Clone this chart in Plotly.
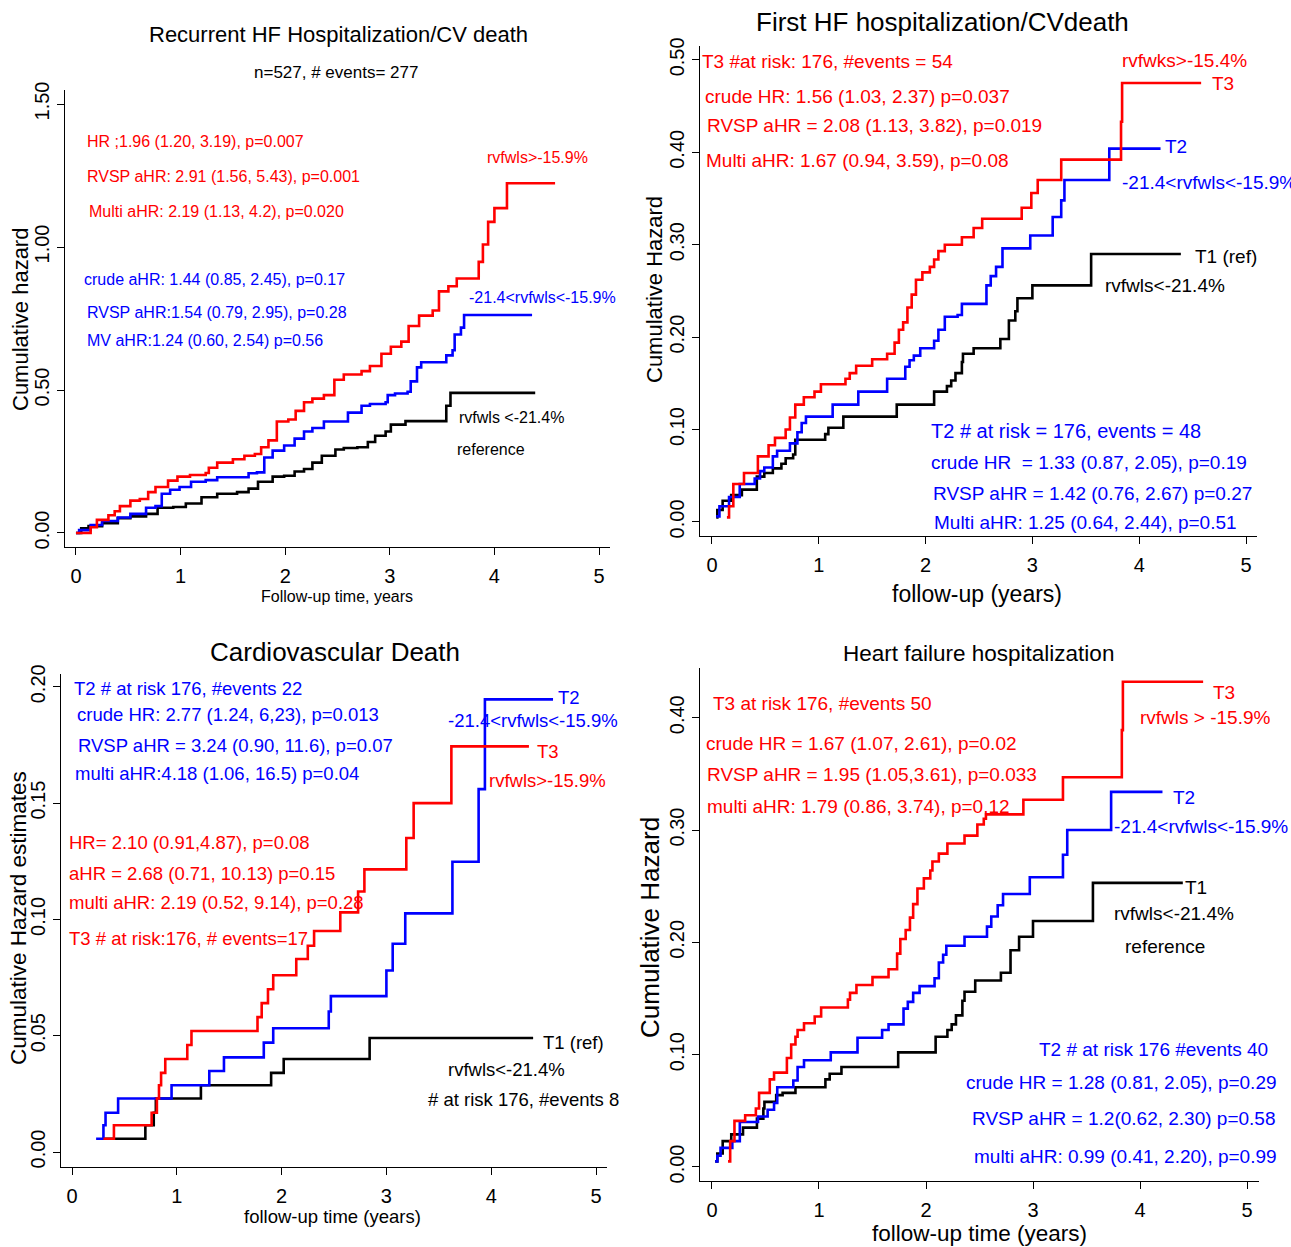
import plotly.graph_objects as go

W, H = 1291, 1247
RED, BLUE, BLACK = "#ff0000", "#0000ff", "#000000"
FONT = "Liberation Sans, Arial, sans-serif"

# ---------------- data: (time in years, cumulative hazard) ----------------
# Panel 1: Recurrent HF Hospitalization/CV death
p1_t3_t = [0, 0.14, 0.2, 0.31, 0.37, 0.42, 0.52, 0.61, 0.69, 0.76, 0.88, 0.97, 1.09, 1.24, 1.27, 1.35, 1.5, 1.61, 1.71, 1.77, 1.84, 1.92, 2.03, 2.1, 2.18, 2.26, 2.37, 2.47, 2.56, 2.73, 2.81, 2.92, 3.01, 3.11, 3.18, 3.28, 3.41, 3.47, 3.56, 3.64, 3.85, 3.89, 3.94, 4.0, 4.12, 4.58]
p1_t3_h = [0, 0.02, 0.046, 0.062, 0.076, 0.094, 0.113, 0.119, 0.143, 0.161, 0.183, 0.197, 0.203, 0.21, 0.228, 0.246, 0.258, 0.27, 0.276, 0.30, 0.324, 0.39, 0.397, 0.427, 0.457, 0.47, 0.482, 0.536, 0.554, 0.566, 0.584, 0.627, 0.651, 0.669, 0.724, 0.76, 0.778, 0.845, 0.863, 0.89, 0.948, 1.009, 1.088, 1.136, 1.223, 1.223]
p1_t2_t = [0, 0.03, 0.14, 0.25, 0.40, 0.52, 0.67, 0.76, 0.82, 0.9, 0.99, 1.1, 1.24, 1.35, 1.65, 1.73, 1.8, 1.88, 1.99, 2.09, 2.18, 2.26, 2.37, 2.6, 2.73, 2.81, 2.96, 2.98, 3.05, 3.17, 3.2, 3.26, 3.3, 3.54, 3.6, 3.62, 3.68, 3.71, 4.36]
p1_t2_h = [0, 0.01, 0.028, 0.042, 0.054, 0.067, 0.088, 0.094, 0.137, 0.151, 0.161, 0.179, 0.185, 0.195, 0.209, 0.212, 0.264, 0.288, 0.306, 0.33, 0.355, 0.367, 0.39, 0.421, 0.445, 0.451, 0.457, 0.482, 0.488, 0.494, 0.53, 0.579, 0.597, 0.621, 0.639, 0.694, 0.718, 0.762, 0.762]
p1_t1_t = [0, 0.05, 0.12, 0.25, 0.4, 0.52, 0.67, 0.78, 0.93, 1.05, 1.2, 1.35, 1.54, 1.65, 1.74, 1.88, 1.99, 2.09, 2.18, 2.26, 2.35, 2.48, 2.56, 2.69, 2.79, 2.86, 2.96, 3.01, 3.15, 3.54, 3.58, 4.39]
p1_t1_h = [0, 0.016, 0.024, 0.034, 0.052, 0.058, 0.067, 0.088, 0.091, 0.103, 0.125, 0.137, 0.143, 0.155, 0.179, 0.197, 0.2, 0.215, 0.224, 0.246, 0.27, 0.292, 0.297, 0.30, 0.318, 0.34, 0.355, 0.379, 0.391, 0.445, 0.49, 0.49]

# Panel 2: First HF hospitalization/CV death
p2_t3_t = [0.14, 0.16, 0.2, 0.3, 0.43, 0.53, 0.59, 0.69, 0.73, 0.78, 0.86, 0.96, 1.02, 1.25, 1.29, 1.35, 1.5, 1.64, 1.71, 1.75, 1.79, 1.83, 1.87, 1.91, 1.97, 2.04, 2.08, 2.12, 2.18, 2.34, 2.45, 2.53, 2.9, 2.99, 3.05, 3.27, 3.83, 3.84, 4.58]
p2_t3_h = [0.005, 0.017, 0.041, 0.053, 0.071, 0.083, 0.091, 0.1, 0.113, 0.127, 0.135, 0.141, 0.149, 0.155, 0.161, 0.169, 0.176, 0.182, 0.194, 0.208, 0.216, 0.232, 0.246, 0.262, 0.27, 0.276, 0.284, 0.293, 0.30, 0.308, 0.318, 0.328, 0.34, 0.356, 0.37, 0.392, 0.433, 0.475, 0.475]
p2_t2_t = [0.04, 0.07, 0.16, 0.26, 0.4, 0.45, 0.49, 0.57, 0.61, 0.73, 0.8, 0.84, 0.88, 1.13, 1.37, 1.64, 1.81, 1.85, 1.89, 1.95, 2.08, 2.12, 2.18, 2.3, 2.34, 2.57, 2.61, 2.66, 2.72, 2.98, 3.19, 3.27, 3.3, 3.72, 4.2]
p2_t2_h = [0.006, 0.017, 0.027, 0.041, 0.047, 0.055, 0.059, 0.071, 0.077, 0.085, 0.097, 0.107, 0.114, 0.127, 0.141, 0.155, 0.168, 0.175, 0.18, 0.188, 0.196, 0.208, 0.222, 0.224, 0.236, 0.256, 0.266, 0.276, 0.296, 0.31, 0.33, 0.348, 0.37, 0.404, 0.404]
p2_t1_t = [0.04, 0.05, 0.1, 0.18, 0.28, 0.42, 0.49, 0.57, 0.65, 0.69, 0.76, 0.78, 1.06, 1.09, 1.23, 1.73, 2.08, 2.2, 2.24, 2.28, 2.34, 2.35, 2.45, 2.7, 2.78, 2.84, 2.86, 3.0, 3.55, 4.39]
p2_t1_h = [0.005, 0.013, 0.023, 0.029, 0.035, 0.049, 0.053, 0.058, 0.063, 0.069, 0.073, 0.089, 0.095, 0.102, 0.114, 0.127, 0.141, 0.147, 0.153, 0.161, 0.173, 0.182, 0.188, 0.198, 0.218, 0.228, 0.242, 0.256, 0.29, 0.29]

# Panel 3: Cardiovascular Death
p3_t3_t = [0.3, 0.4, 0.76, 0.81, 0.83, 0.85, 0.89, 1.1, 1.14, 1.77, 1.81, 1.87, 1.92, 2.14, 2.25, 2.31, 2.56, 2.73, 2.79, 3.19, 3.26, 3.62, 4.36]
p3_t3_h = [0.0057, 0.0115, 0.0169, 0.023, 0.0287, 0.034, 0.040, 0.046, 0.052, 0.058, 0.064, 0.070, 0.076, 0.083, 0.0887, 0.095, 0.103, 0.112, 0.1215, 0.135, 0.150, 0.1744, 0.1744]
p3_t2_t = [0.23, 0.3, 0.32, 0.44, 0.95, 1.31, 1.45, 1.83, 1.92, 2.45, 2.47, 3.0, 3.06, 3.18, 3.63, 3.88, 3.94, 4.59]
p3_t2_h = [0.0057, 0.0115, 0.0169, 0.023, 0.0287, 0.0348, 0.0407, 0.047, 0.0532, 0.0604, 0.067, 0.078, 0.0895, 0.1026, 0.1248, 0.156, 0.1946, 0.1946]
p3_t1_t = [0.3, 0.7, 0.78, 0.8, 1.23, 1.9, 2.02, 2.84, 4.4]
p3_t1_h = [0.0057, 0.0115, 0.0169, 0.023, 0.0287, 0.034, 0.040, 0.049, 0.049]

# Panel 4: Heart failure hospitalization
p4_t3_t = [0.15, 0.17, 0.21, 0.31, 0.41, 0.44, 0.54, 0.58, 0.7, 0.74, 0.78, 0.8, 0.86, 0.96, 1.02, 1.27, 1.29, 1.35, 1.5, 1.65, 1.73, 1.76, 1.81, 1.85, 1.88, 1.92, 1.98, 2.04, 2.06, 2.12, 2.2, 2.36, 2.48, 2.54, 2.56, 2.91, 3.28, 3.83, 3.84, 4.59]
p4_t3_h = [0.005, 0.023, 0.041, 0.046, 0.052, 0.066, 0.078, 0.084, 0.097, 0.109, 0.116, 0.122, 0.128, 0.134, 0.142, 0.149, 0.155, 0.162, 0.169, 0.176, 0.19, 0.203, 0.211, 0.222, 0.234, 0.248, 0.257, 0.264, 0.272, 0.279, 0.288, 0.295, 0.305, 0.31, 0.314, 0.327, 0.347, 0.389, 0.432, 0.432]
p4_t2_t = [0.03, 0.05, 0.08, 0.19, 0.26, 0.43, 0.52, 0.58, 0.61, 0.76, 0.8, 0.86, 1.11, 1.36, 1.59, 1.65, 1.79, 1.83, 1.88, 1.94, 2.08, 2.12, 2.16, 2.19, 2.36, 2.57, 2.61, 2.67, 2.72, 2.97, 3.28, 3.32, 3.73, 4.21]
p4_t2_h = [0.005, 0.01, 0.017, 0.023, 0.04, 0.045, 0.051, 0.057, 0.071, 0.077, 0.089, 0.095, 0.102, 0.115, 0.122, 0.127, 0.141, 0.147, 0.155, 0.161, 0.168, 0.182, 0.189, 0.197, 0.205, 0.214, 0.223, 0.233, 0.243, 0.258, 0.278, 0.3, 0.334, 0.334]
p4_t1_t = [0.03, 0.05, 0.1, 0.18, 0.29, 0.42, 0.48, 0.49, 0.6, 0.66, 0.78, 1.06, 1.1, 1.21, 1.74, 2.09, 2.2, 2.24, 2.28, 2.34, 2.36, 2.46, 2.7, 2.79, 2.87, 3.0, 3.56, 4.4]
p4_t1_h = [0.005, 0.012, 0.023, 0.029, 0.035, 0.043, 0.052, 0.058, 0.064, 0.066, 0.071, 0.078, 0.083, 0.089, 0.102, 0.116, 0.122, 0.127, 0.135, 0.148, 0.156, 0.166, 0.173, 0.193, 0.205, 0.219, 0.253, 0.253]

x_ticks = [0, 1, 2, 3, 4, 5]
p1_yticks = [0.0, 0.5, 1.0, 1.5]
p2_yticks = [0.0, 0.1, 0.2, 0.3, 0.4, 0.5]
p3_yticks = [0.0, 0.05, 0.10, 0.15, 0.20]
p4_yticks = [0.0, 0.1, 0.2, 0.3, 0.4]

# ---------------- layout geometry (screen pixels; page margin removed) ----------------
def fx(p):
    return p / W

def fy(p):
    return 1 - p / H

panels = [
    dict(xpx=(65, 610), ypx=(90, 547), xr=[-0.105, 5.105], yr=[-0.049, 1.549], yt=p1_yticks,
         series=[(p1_t1_t, p1_t1_h, BLACK), (p1_t2_t, p1_t2_h, BLUE), (p1_t3_t, p1_t3_h, RED)]),
    dict(xpx=(700, 1257), ypx=(46, 536), xr=[-0.112, 5.103], yr=[-0.0152, 0.515], yt=p2_yticks,
         series=[(p2_t1_t, p2_t1_h, BLACK), (p2_t2_t, p2_t2_h, BLUE), (p2_t3_t, p2_t3_h, RED)]),
    dict(xpx=(61, 607), ypx=(674, 1167), xr=[-0.105, 5.105], yr=[-0.00645, 0.2055], yt=p3_yticks,
         series=[(p3_t1_t, p3_t1_h, BLACK), (p3_t2_t, p3_t2_h, BLUE), (p3_t3_t, p3_t3_h, RED)]),
    dict(xpx=(700, 1259), ypx=(668, 1181), xr=[-0.112, 5.112], yr=[-0.0125, 0.4443], yt=p4_yticks,
         series=[(p4_t1_t, p4_t1_h, BLACK), (p4_t2_t, p4_t2_h, BLUE), (p4_t3_t, p4_t3_h, RED)]),
]

fig = go.Figure()
layout = {}
for i, p in enumerate(panels, start=1):
    sfx = "" if i == 1 else str(i)
    for (t, h, c) in p["series"]:
        fig.add_trace(go.Scatter(x=t, y=h, mode="lines", line=dict(shape="hv", color=c, width=2.6),
                                 xaxis="x" + sfx, yaxis="y" + sfx, showlegend=False, hoverinfo="skip"))
    layout["xaxis" + sfx] = dict(
        domain=[fx(p["xpx"][0]), fx(p["xpx"][1])], range=p["xr"], anchor="y" + sfx,
        tickvals=x_ticks, ticks="outside", ticklen=7, tickwidth=1.3, tickcolor="#000",
        showline=True, linecolor="#000", linewidth=1.3, showgrid=False, zeroline=False,
        automargin=False,
        tickfont=dict(family=FONT, size=20, color="#000"), ticklabelstandoff=4)
    layout["yaxis" + sfx] = dict(
        domain=[fy(p["ypx"][1]), fy(p["ypx"][0])], range=p["yr"], anchor="x" + sfx,
        tickvals=p["yt"], tickformat=".2f", ticks="outside", ticklen=7, tickwidth=1.3, tickcolor="#000",
        showline=True, linecolor="#000", linewidth=1.3, showgrid=False, zeroline=False,
        automargin=False,
        tickangle=-90, tickfont=dict(family=FONT, size=20, color="#000"))

# ---------------- text ----------------
# (text, x px, y px, color, size, xanchor, angle)
texts = [
    # panel 1
    ("Recurrent HF Hospitalization/CV death", 338, 35, BLACK, 22, "center", 0),
    ("n=527, # events= 277", 336, 72, BLACK, 17, "center", 0),
    ("HR ;1.96 (1.20, 3.19), p=0.007", 85, 141, RED, 16, "left", 0),
    ("RVSP aHR: 2.91 (1.56, 5.43), p=0.001", 85, 177, RED, 16, "left", 0),
    ("Multi aHR: 2.19 (1.13, 4.2), p=0.020", 87, 212, RED, 16, "left", 0),
    ("rvfwls>-15.9%", 485, 157, RED, 16, "left", 0),
    ("crude aHR: 1.44 (0.85, 2.45), p=0.17", 82, 279, BLUE, 16, "left", 0),
    ("RVSP aHR:1.54 (0.79, 2.95), p=0.28", 85, 312, BLUE, 16, "left", 0),
    ("MV aHR:1.24 (0.60, 2.54) p=0.56", 85, 341, BLUE, 16, "left", 0),
    ("-21.4<rvfwls<-15.9%", 467, 297, BLUE, 16, "left", 0),
    ("rvfwls <-21.4%", 457, 417, BLACK, 16, "left", 0),
    ("reference", 455, 449, BLACK, 16, "left", 0),
    ("Cumulative hazard", 20, 320, BLACK, 22, "center", -90),
    ("Follow-up time, years", 337, 597, BLACK, 16, "center", 0),
    # panel 2
    ("First HF hospitalization/CVdeath", 942, 22, BLACK, 26, "center", 0),
    ("T3 #at risk: 176, #events = 54", 700, 61, RED, 19, "left", 0),
    ("crude HR: 1.56 (1.03, 2.37) p=0.037", 703, 96, RED, 19, "left", 0),
    ("RVSP aHR = 2.08 (1.13, 3.82), p=0.019", 705, 125, RED, 19, "left", 0),
    ("Multi aHR: 1.67 (0.94, 3.59), p=0.08", 704, 160, RED, 19, "left", 0),
    ("rvfwks>-15.4%", 1120, 60, RED, 19, "left", 0),
    ("T3", 1210, 84, RED, 19, "left", 0),
    ("T2", 1163, 147, BLUE, 19, "left", 0),
    ("-21.4<rvfwls<-15.9%", 1120, 182, BLUE, 19, "left", 0),
    ("T1 (ref)", 1193, 256, BLACK, 19, "left", 0),
    ("rvfwls<-21.4%", 1103, 285, BLACK, 19, "left", 0),
    ("T2 # at risk = 176, events = 48", 929, 431, BLUE, 20, "left", 0),
    ("crude HR  = 1.33 (0.87, 2.05), p=0.19", 929, 462, BLUE, 19, "left", 0),
    ("RVSP aHR = 1.42 (0.76, 2.67) p=0.27", 931, 493, BLUE, 19, "left", 0),
    ("Multi aHR: 1.25 (0.64, 2.44), p=0.51", 932, 522, BLUE, 19, "left", 0),
    ("Cumulative Hazard", 655, 290, BLACK, 22, "center", -90),
    ("follow-up (years)", 977, 594, BLACK, 23, "center", 0),
    # panel 3
    ("Cardiovascular Death", 335, 652, BLACK, 26, "center", 0),
    ("T2 # at risk 176, #events 22", 72, 688, BLUE, 18.5, "left", 0),
    ("crude HR: 2.77 (1.24, 6,23), p=0.013", 75, 714, BLUE, 18.5, "left", 0),
    ("RVSP aHR = 3.24 (0.90, 11.6), p=0.07", 76, 745, BLUE, 18.5, "left", 0),
    ("multi aHR:4.18 (1.06, 16.5) p=0.04", 73, 773, BLUE, 18.5, "left", 0),
    ("HR= 2.10 (0.91,4.87), p=0.08", 67, 843, RED, 18.5, "left", 0),
    ("aHR = 2.68 (0.71, 10.13) p=0.15", 67, 873, RED, 18.5, "left", 0),
    ("multi aHR: 2.19 (0.52, 9.14), p=0.28", 67, 902, RED, 18.5, "left", 0),
    ("T3 # at risk:176, # events=17", 67, 938, RED, 18.5, "left", 0),
    ("T2", 556, 697, BLUE, 18.5, "left", 0),
    ("-21.4<rvfwls<-15.9%", 446, 720, BLUE, 18.5, "left", 0),
    ("T3", 535, 751, RED, 18.5, "left", 0),
    ("rvfwls>-15.9%", 487, 780, RED, 18.5, "left", 0),
    ("T1 (ref)", 541, 1042, BLACK, 18.5, "left", 0),
    ("rvfwls<-21.4%", 446, 1069, BLACK, 18.5, "left", 0),
    ("# at risk 176, #events 8", 426, 1099, BLACK, 18.5, "left", 0),
    ("Cumulative Hazard estimates", 18, 918, BLACK, 22.5, "center", -90),
    ("follow-up time (years)", 333, 1216, BLACK, 18.5, "center", 0),
    # panel 4
    ("Heart failure hospitalization", 978, 653, BLACK, 22.5, "center", 0),
    ("T3 at risk 176, #events 50", 711, 703, RED, 19, "left", 0),
    ("crude HR = 1.67 (1.07, 2.61), p=0.02", 704, 743, RED, 19, "left", 0),
    ("RVSP aHR = 1.95 (1.05,3.61), p=0.033", 705, 774, RED, 19, "left", 0),
    ("multi aHR: 1.79 (0.86, 3.74), p=0.12", 705, 806, RED, 19, "left", 0),
    ("T3", 1211, 692, RED, 19, "left", 0),
    ("rvfwls > -15.9%", 1138, 717, RED, 19, "left", 0),
    ("T2", 1171, 797, BLUE, 19, "left", 0),
    ("-21.4<rvfwls<-15.9%", 1112, 826, BLUE, 19, "left", 0),
    ("T1", 1183, 887, BLACK, 19, "left", 0),
    ("rvfwls<-21.4%", 1112, 913, BLACK, 19, "left", 0),
    ("reference", 1123, 947, BLACK, 19, "left", 0),
    ("T2 # at risk 176 #events 40", 1037, 1049, BLUE, 19, "left", 0),
    ("crude HR = 1.28 (0.81, 2.05), p=0.29", 964, 1082, BLUE, 19, "left", 0),
    ("RVSP aHR = 1.2(0.62, 2.30) p=0.58", 970, 1118, BLUE, 19, "left", 0),
    ("multi aHR: 0.99 (0.41, 2.20), p=0.99", 972, 1156, BLUE, 19, "left", 0),
    ("Cumulative Hazard", 650, 928, BLACK, 26, "center", -90),
    ("follow-up time (years)", 979, 1233, BLACK, 22.5, "center", 0),
]

annotations = []
for (txt, x, y, c, s, xa, ang) in texts:
    annotations.append(dict(text=txt, x=fx(x), y=fy(y), xref="paper", yref="paper",
                            xanchor=xa, yanchor="middle", showarrow=False, textangle=ang,
                            font=dict(family=FONT, size=s, color=c)))

fig.update_layout(width=W, height=H, margin=dict(l=0, r=0, t=0, b=0, pad=0, autoexpand=False),
                  paper_bgcolor="white", plot_bgcolor="white",
                  annotations=annotations, **layout)
fig.write_html("out.html", config={"displayModeBar": False},
               post_script="document.body.style.margin='0';document.body.style.overflow='hidden';")
